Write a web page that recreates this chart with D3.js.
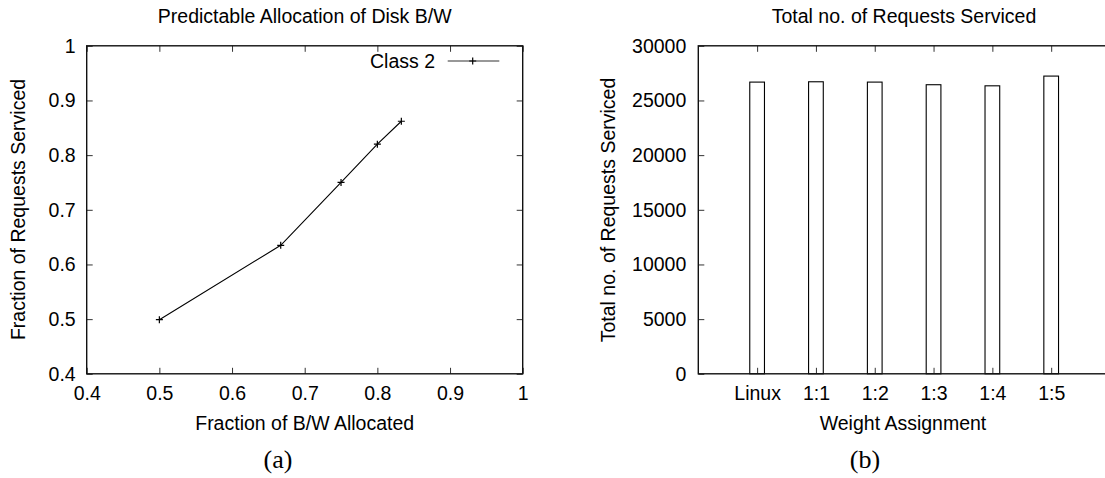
<!DOCTYPE html>
<html>
<head>
<meta charset="utf-8">
<script src="https://cdn.jsdelivr.net/npm/d3@7"></script>
<style>
  body { margin: 0; background: white; }
  svg text { font-family: "Liberation Sans", Arial, Helvetica, sans-serif; fill: #000; }
</style>
</head>
<body>
<svg id="chart" width="1105" height="478"></svg>
<script>
// data
var bwAllocated = [0.5, 0.667, 0.75, 0.8, 0.833];
var reqFraction = [0.499, 0.635, 0.75, 0.82, 0.862];
var fracTicks = [0.4, 0.5, 0.6, 0.7, 0.8, 0.9, 1];

var weightLabels = ["Linux", "1:1", "1:2", "1:3", "1:4", "1:5"];
var totalRequests = [26680, 26710, 26680, 26440, 26340, 27230];
var countTicks = [0, 5000, 10000, 15000, 20000, 25000, 30000];

var svg = d3.select("#chart");
var fontSize = 19.5;
var top0 = 45.8, bottom0 = 373.8;

// inward mirrored ticks + frame, like gnuplot
function frame(g, x0, x1) {
    g.append("rect")
        .attr("x", x0).attr("y", top0)
        .attr("width", x1 - x0).attr("height", bottom0 - top0)
        .attr("fill", "none").attr("stroke", "#111").attr("stroke-width", 1.4);
}

function styleAxis(sel) {
    sel.select(".domain").remove();
    sel.selectAll(".tick line").attr("stroke", "#333").attr("stroke-width", 1);
    sel.selectAll(".tick text").style("font-size", fontSize + "px").attr("fill", "#000");
}

// ---------- (a) line chart ----------
var ga = svg.append("g");
var xa = d3.scaleLinear().domain([0.4, 1]).range([86.7, 522.7]);
var ya = d3.scaleLinear().domain([0.4, 1]).range([bottom0, top0]);

ga.append("g").attr("transform", "translate(0," + bottom0 + ")")
    .call(d3.axisBottom(xa).tickValues(fracTicks).tickFormat(String).tickSizeInner(-6).tickSizeOuter(0).tickPadding(12))
    .call(styleAxis);
ga.append("g").attr("transform", "translate(0," + top0 + ")")
    .call(d3.axisTop(xa).tickValues(fracTicks).tickFormat("").tickSizeInner(-6).tickSizeOuter(0))
    .call(styleAxis);
ga.append("g").attr("transform", "translate(" + xa.range()[0] + ",0)")
    .call(d3.axisLeft(ya).tickValues(fracTicks).tickFormat(String).tickSizeInner(-6).tickSizeOuter(0).tickPadding(11))
    .call(styleAxis);
ga.append("g").attr("transform", "translate(" + xa.range()[1] + ",0)")
    .call(d3.axisRight(ya).tickValues(fracTicks).tickFormat("").tickSizeInner(-6).tickSizeOuter(0))
    .call(styleAxis);
frame(ga, xa.range()[0], xa.range()[1]);

var pts = bwAllocated.map(function(d, i) { return [d, reqFraction[i]]; });
var line = d3.line().x(function(d) { return xa(d[0]); }).y(function(d) { return ya(d[1]); });
ga.append("path").datum(pts)
    .attr("d", line).attr("fill", "none").attr("stroke", "#000").attr("stroke-width", 1.1);

var plus = "M-3.5,0H3.5M0,-3.5V3.5";
ga.selectAll(".pt").data(pts).enter().append("path")
    .attr("transform", function(d) { return "translate(" + xa(d[0]) + "," + ya(d[1]) + ")"; })
    .attr("d", plus).attr("stroke", "#000").attr("stroke-width", 1.2);

// legend
ga.append("text").attr("x", 435).attr("y", 68).attr("text-anchor", "end")
    .style("font-size", fontSize + "px").text("Class 2");
ga.append("line").attr("x1", 447.7).attr("x2", 499.3).attr("y1", 61).attr("y2", 61)
    .attr("stroke", "#333").attr("stroke-width", 1.1);
ga.append("path").attr("transform", "translate(472.7,61)")
    .attr("d", plus).attr("stroke", "#000").attr("stroke-width", 1.2);

ga.append("text").attr("x", 304.7).attr("y", 23).attr("text-anchor", "middle")
    .style("font-size", fontSize + "px").text("Predictable Allocation of Disk B/W");
ga.append("text").attr("x", 304.7).attr("y", 430).attr("text-anchor", "middle")
    .style("font-size", fontSize + "px").text("Fraction of B/W Allocated");
ga.append("text").attr("transform", "translate(25,209.5) rotate(-90)").attr("text-anchor", "middle")
    .style("font-size", fontSize + "px").text("Fraction of Requests Serviced");
ga.append("text").attr("x", 278).attr("y", 468).attr("text-anchor", "middle")
    .style("font-family", "'Liberation Serif', 'Times New Roman', serif").style("font-size", "26px")
    .text("(a)");

// ---------- (b) bar chart ----------
var gb = svg.append("g");
var xb = d3.scaleLinear().domain([0, 7]).range([698.3, 1110]);
var yb = d3.scaleLinear().domain([0, 30000]).range([bottom0, top0]);
var catPos = weightLabels.map(function(d, i) { return i + 1; });

gb.append("g").attr("transform", "translate(0," + bottom0 + ")")
    .call(d3.axisBottom(xb).tickValues(catPos).tickFormat(function(d) { return weightLabels[d - 1]; })
        .tickSizeInner(-6).tickSizeOuter(0).tickPadding(12))
    .call(styleAxis);
gb.append("g").attr("transform", "translate(0," + top0 + ")")
    .call(d3.axisTop(xb).tickValues(catPos).tickFormat("").tickSizeInner(-6).tickSizeOuter(0))
    .call(styleAxis);
gb.append("g").attr("transform", "translate(" + xb.range()[0] + ",0)")
    .call(d3.axisLeft(yb).tickValues(countTicks).tickFormat(d3.format("d")).tickSizeInner(-6).tickSizeOuter(0).tickPadding(12))
    .call(styleAxis);

var barW = xb(0.25) - xb(0);
gb.selectAll(".bar").data(totalRequests).enter().append("rect")
    .attr("x", function(d, i) { return xb(catPos[i]) - barW / 2; })
    .attr("y", function(d) { return yb(d); })
    .attr("width", barW)
    .attr("height", function(d) { return yb(0) - yb(d); })
    .attr("fill", "white").attr("stroke", "#000").attr("stroke-width", 1.1);

// re-draw bottom tick marks over the bars
gb.append("g").attr("transform", "translate(0," + bottom0 + ")")
    .call(d3.axisBottom(xb).tickValues(catPos).tickFormat("").tickSizeInner(-6).tickSizeOuter(0))
    .call(styleAxis);
frame(gb, xb.range()[0], xb.range()[1]);

gb.append("text").attr("x", 904).attr("y", 23).attr("text-anchor", "middle")
    .style("font-size", fontSize + "px").text("Total no. of Requests Serviced");
gb.append("text").attr("x", 903).attr("y", 430).attr("text-anchor", "middle")
    .style("font-size", fontSize + "px").text("Weight Assignment");
gb.append("text").attr("transform", "translate(615,210) rotate(-90)").attr("text-anchor", "middle")
    .style("font-size", fontSize + "px").text("Total no. of Requests Serviced");
gb.append("text").attr("x", 865).attr("y", 468).attr("text-anchor", "middle")
    .style("font-family", "'Liberation Serif', 'Times New Roman', serif").style("font-size", "26px")
    .text("(b)");
</script>
</body>
</html>
